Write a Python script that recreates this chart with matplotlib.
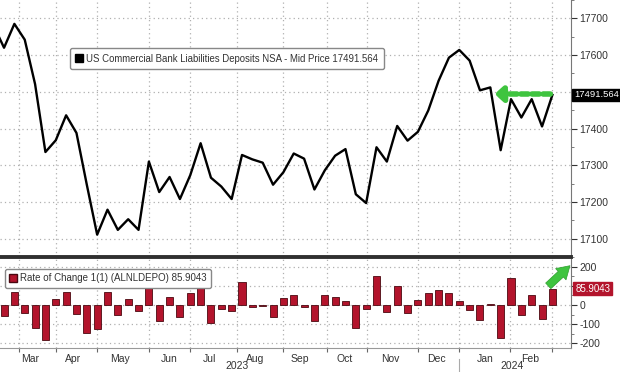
import matplotlib.pyplot as plt
import numpy as np
from matplotlib.lines import Line2D
from matplotlib.patches import Patch

plt.rcParams['font.family'] = ['Liberation Sans', 'DejaVu Sans']

# weekly deposits level (bn USD), week index -1 is the partly cut-off first point
week = np.arange(-1, 54)
deposits = [17680, 17620, 17685, 17642, 17521, 17336, 17368, 17436, 17388, 17247,
            17111, 17179, 17124, 17153, 17124, 17310, 17227, 17268, 17208, 17273,
            17360, 17266, 17242, 17208, 17328, 17316, 17307, 17247, 17281, 17332,
            17318, 17234, 17286, 17326, 17344, 17221, 17197, 17349, 17310, 17407,
            17367, 17391, 17449, 17530, 17593, 17614, 17585, 17504, 17512, 17341,
            17480, 17430, 17480, 17405.66, 17491.564]

# week-over-week change
week_chg = np.arange(0, 54)
change = [-55, 67, -40, -120, -180, 33, 68, -47, -148, -125,
          68, -53, 32, -29, 185, -83, 42, -60, 63, 92,
          -92, -22, -31, 120, -11, -6, -60, 35, 53, -12,
          -83, 52, 43, 20, -122, -22, 152, -37, 98, -39,
          26, 61, 78, 62, 21, -28, -77, 7, -170, 143,
          -51, 53, -71, 85.9043]

month_edges = [1.4, 5, 9, 14, 18, 22.5, 27, 31.2, 35.1, 40, 44, 48.9, 53]
month_mid = [2.5, 6.7, 11.2, 16.0, 19.9, 24.3, 28.6, 32.9, 37.3, 41.8, 46.5, 50.8]
month_names = ['Mar', 'Apr', 'May', 'Jun', 'Jul', 'Aug', 'Sep', 'Oct', 'Nov', 'Dec', 'Jan', 'Feb']
years = ['2023', '2024']
year_pos = [22.5, 49.1]

top_ticks = [17100, 17200, 17300, 17400, 17500, 17600, 17700]
top_labels = ['17100', '17200', '17300', '17400', '', '17600', '17700']
bot_ticks = [-200, -100, 0, 100, 200]
bot_labels = ['-200', '-100', '0', '', '200']

bar_color = '#b3142c'
grid_kw = dict(linestyle=(0, (1, 2.5)), color='#b0b0b0', linewidth=0.9)
txt = '#333333'

fig = plt.figure(figsize=(6.2, 3.72), dpi=100)
ax1 = fig.add_axes([0, 0.309, 0.921, 0.691])
ax2 = fig.add_axes([0, 0.0645, 0.921, 0.2393], sharex=ax1)

# upper panel: deposits level
ax1.plot(week, deposits, color='black', lw=1.7, zorder=3)
ax1.set_xlim(-0.39, 54.8)
ax1.set_ylim(17053, 17726)
ax1.yaxis.tick_right()
ax1.set_yticks(top_ticks)
ax1.set_yticklabels(top_labels)
ax1.set_yticks(np.arange(17050, 17751, 50), minor=True)
ax1.tick_params(axis='y', which='major', labelsize=7.5, colors=txt, length=4, pad=2)
ax1.tick_params(axis='y', which='minor', length=2, colors='#666')
ax1.set_xticks(month_edges)
ax1.tick_params(axis='x', which='both', length=0, labelbottom=False)
ax1.grid(True, **grid_kw)
for s in ['left', 'top']:
    ax1.spines[s].set_visible(False)
ax1.spines['right'].set_color('#777')
ax1.spines['bottom'].set_color('#303030')
ax1.spines['bottom'].set_linewidth(2.8)

h1 = Line2D([], [], marker='s', color='black', linestyle='none', markersize=6)
leg1 = ax1.legend([h1], ['US Commercial Bank Liabilities Deposits NSA - Mid Price 17491.564'],
                  loc='upper left', bbox_to_anchor=(65 / 571, 1 - 43 / 257), fontsize=6.9,
                  frameon=True, fancybox=True, edgecolor='#888', framealpha=1,
                  handlelength=0.8, handletextpad=0.3, borderpad=0.6, labelcolor=txt)
leg1.get_frame().set_linewidth(1.0)

ax1.annotate('17491.564', xy=(1.0, deposits[-1]), xycoords=('axes fraction', 'data'),
             xytext=(2, 0), textcoords='offset points', va='center', ha='left',
             fontsize=6.8, color='white', annotation_clip=False,
             bbox=dict(boxstyle='square,pad=0.2', fc='black', ec='black'))

# green arrow (annotation)
ax1.annotate('', xy=(47.4, 17494), xytext=(52.8, 17494),
             arrowprops=dict(arrowstyle='-|>,head_width=0.45,head_length=0.5',
                             color='#3fc43f', lw=4, linestyle=(0, (1.3, 0.7)),
                             shrinkA=0, shrinkB=0))

# lower panel: rate of change bars
ax2.bar(week_chg, change, width=0.68, color=bar_color, edgecolor='#4a0810', lw=0.6, zorder=3)
ax2.set_ylim(-224, 240)
ax2.yaxis.tick_right()
ax2.set_yticks(bot_ticks)
ax2.set_yticklabels(bot_labels)
ax2.set_yticks(np.arange(-200, 201, 50), minor=True)
ax2.tick_params(axis='y', which='major', labelsize=7.5, colors=txt, length=4, pad=2)
ax2.tick_params(axis='y', which='minor', length=2, colors='#666')
ax2.set_xticks(month_edges)
ax2.set_xticklabels([])
ax2.set_xticks(month_mid, minor=True)
ax2.set_xticklabels(month_names, minor=True)
ax2.tick_params(axis='x', which='major', length=3, colors='#666')
ax2.tick_params(axis='x', which='minor', length=0, labelsize=7.5, labelcolor=txt, pad=4)
ax2.grid(True, which='major', **grid_kw)
for s in ['left', 'top']:
    ax2.spines[s].set_visible(False)
ax2.spines['right'].set_color('#777')
ax2.spines['bottom'].set_color('#999')

for y, p in zip(years, year_pos):
    ax2.text(p, -0.2, y, transform=ax2.get_xaxis_transform(), ha='center', va='center',
             fontsize=7.5, color=txt)
ax2.plot([44, 44], [-0.12, -0.3], transform=ax2.get_xaxis_transform(), color='#aaa',
         lw=0.8, clip_on=False)

h2 = Patch(facecolor=bar_color, edgecolor='#4a0810')
leg2 = ax2.legend([h2], ['Rate of Change 1(1) (ALNLDEPO) 85.9043'],
                  loc='upper left', bbox_to_anchor=(0, 1 - 5 / 89), fontsize=7,
                  frameon=True, fancybox=True, edgecolor='#888', framealpha=1,
                  handlelength=0.8, handleheight=0.8, handletextpad=0.35, borderpad=0.45,
                  labelcolor=txt)
leg2.get_frame().set_linewidth(1.0)

ax2.annotate('85.9043', xy=(1.0, change[-1]), xycoords=('axes fraction', 'data'),
             xytext=(3, 0), textcoords='offset points', va='center', ha='left',
             fontsize=7, color='white', annotation_clip=False,
             bbox=dict(boxstyle='square,pad=0.2', fc=bar_color, ec=bar_color))

ax2.annotate('', xy=(54.7, 205), xytext=(52.6, 100),
             arrowprops=dict(arrowstyle='simple,head_width=1.1,head_length=0.9,tail_width=0.55',
                             fc='#3fc43f', ec='#2d9e2d', lw=0.5, mutation_scale=10,
                             shrinkA=0, shrinkB=0),
             annotation_clip=False)

fig.savefig('out.png', dpi=100)
